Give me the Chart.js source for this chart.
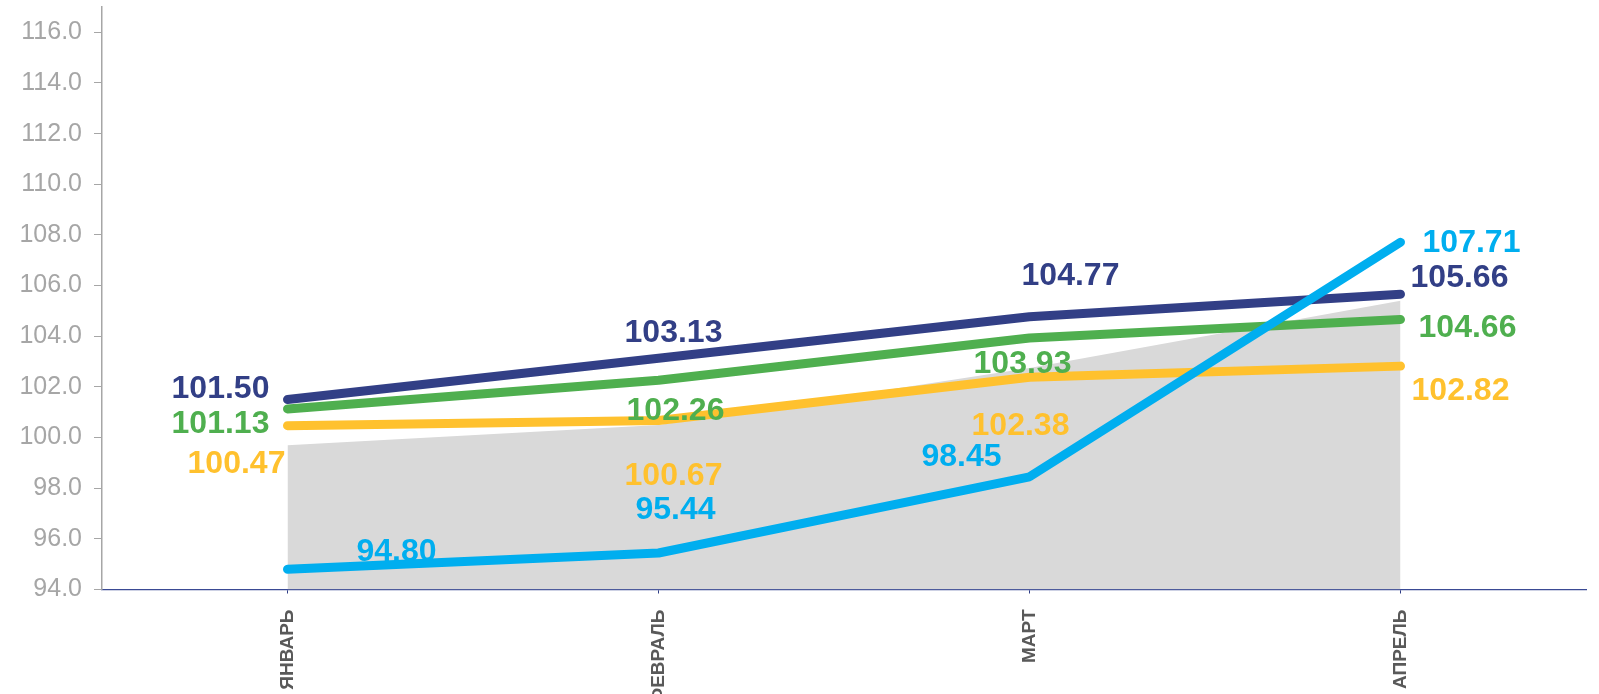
<!DOCTYPE html>
<html>
<head>
<meta charset="utf-8">
<script src="https://cdn.jsdelivr.net/npm/chart.js@4/dist/chart.umd.min.js"></script>
<style>
  html, body { margin: 0; padding: 0; background: #ffffff; }
  #wrap { width: 1599px; height: 694px; position: relative; }
</style>
</head>
<body>
<div id="wrap"><canvas id="c"></canvas></div>
<script>
// ---- data ----
const categories = ['ЯНВАРЬ', 'ФЕВРАЛЬ', 'МАРТ', 'АПРЕЛЬ'];
const seriesNavy   = [101.50, 103.13, 104.77, 105.66];
const seriesGreen  = [101.13, 102.26, 103.93, 104.66];
const seriesYellow = [100.47, 100.67, 102.38, 102.82];
const seriesCyan   = [94.80, 95.44, 98.45, 107.71];
const seriesArea   = [99.7, 100.5, 102.75, 105.4];
const yTickValues  = [94, 96, 98, 100, 102, 104, 106, 108, 110, 112, 114, 116];
const yMin = 94, yMax = 117;

// ---- styles (label offsets in px relative to the point) ----
const offNavy   = [[-67, -10], [15, -25], [41, -41], [59, -16]];
const offGreen  = [[-67, 15], [17, 31], [-7, 26], [67, 9]];
const offYellow = [[-51, 39], [15, 56], [-9, 49], [60, 25]];
const offCyan   = [[109, -17], [17, -43], [-68, -20], [71, 1]];

const labelPlugin = {
  id: 'valueLabels',
  afterDatasetsDraw(chart) {
    const ctx = chart.ctx;
    ctx.save();
    ctx.font = 'bold 32px "Liberation Sans", Arial, sans-serif';
    ctx.textAlign = 'center';
    ctx.textBaseline = 'middle';
    chart.data.datasets.forEach((ds, i) => {
      if (!ds.labelOffsets) return;
      const meta = chart.getDatasetMeta(i);
      meta.data.forEach((pt, j) => {
        const o = ds.labelOffsets[j];
        ctx.fillStyle = ds.borderColor;
        ctx.fillText(ds.data[j].toFixed(2), pt.x + o[0], pt.y + o[1]);
      });
    });
    ctx.restore();
  }
};

function lineDs(data, color, offs) {
  return {
    data, borderColor: color, backgroundColor: color,
    borderWidth: 9, borderCapStyle: 'round', borderJoinStyle: 'round',
    pointRadius: 0, pointHoverRadius: 0, tension: 0, fill: false,
    labelOffsets: offs
  };
}

new Chart(document.getElementById('c'), {
  type: 'line',
  data: {
    labels: categories,
    datasets: [
      lineDs(seriesCyan, '#00AEEF', offCyan),
      lineDs(seriesNavy, '#323F86', offNavy),
      lineDs(seriesGreen, '#4FAF4F', offGreen),
      lineDs(seriesYellow, '#FFC12E', offYellow),
      {
        data: seriesArea, borderWidth: 0, borderColor: 'rgba(0,0,0,0)',
        backgroundColor: '#D9D9D9', fill: 'start', pointRadius: 0, tension: 0
      }
    ]
  },
  options: {
    responsive: true,
    maintainAspectRatio: false,
    animation: false,
    events: [],
    layout: { padding: { left: 0, right: 13, top: 7, bottom: 0 } },
    plugins: { legend: { display: false }, tooltip: { enabled: false } },
    scales: {
      x: {
        offset: true,
        z: 1,
        afterFit(scale) { scale.height = 104.5; scale.paddingLeft = 0; scale.paddingRight = 0; },
        grid: { display: true, drawOnChartArea: false, drawTicks: true, tickLength: 4, color: '#2E3D85', lineWidth: 1 },
        border: { display: true, color: '#3A4A94', width: 1.3, dash: [1.5, 1.5] },
        ticks: {
          autoSkip: false, minRotation: 90, maxRotation: 90, padding: 16,
          color: '#595959',
          font: { family: '"Liberation Sans", Arial, sans-serif', size: 19, weight: 'bold' }
        }
      },
      y: {
        min: yMin, max: yMax,
        afterBuildTicks(scale) { scale.ticks = yTickValues.map(v => ({ value: v })); },
        afterFit(scale) { scale.width = 102; scale.paddingTop = 0; scale.paddingBottom = 0; },
        grid: { display: true, drawOnChartArea: false, drawTicks: true, tickLength: 8, color: '#A6A6A6' },
        border: { display: true, color: '#A6A6A6', width: 1.5 },
        ticks: {
          padding: 12, color: '#A6A6A6',
          font: { family: '"Liberation Sans", Arial, sans-serif', size: 25 },
          callback: v => Number(v).toFixed(1)
        }
      }
    }
  },
  plugins: [labelPlugin]
});
</script>
</body>
</html>
